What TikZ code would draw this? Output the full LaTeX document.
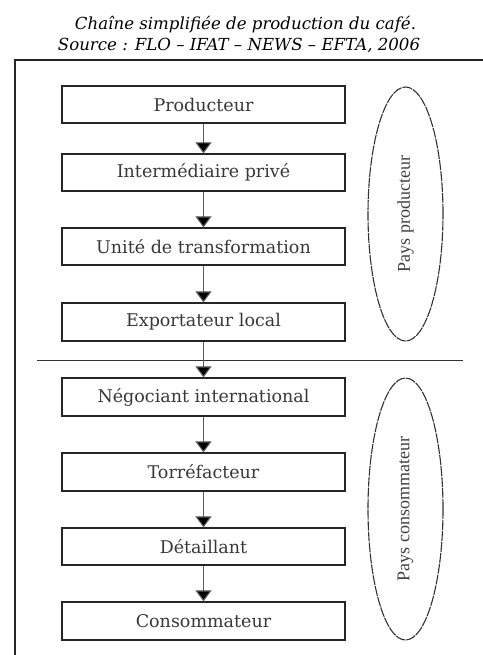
\documentclass[tikz,border=0pt]{standalone}
\usepackage{fontspec}
\setmainfont{DejaVu Serif}
\newfontfamily\titlefont{DejaVu Serif}
\newfontfamily\vfont{Liberation Serif}
\usetikzlibrary{arrows.meta,shapes.geometric}
\begin{document}
\begin{tikzpicture}[x=1pt,y=-1pt,
  stagebox/.style={draw=black!85, line width=1.2pt, minimum width=283pt, minimum height=37pt, inner sep=0pt, font=\fontsize{17.5}{20}\selectfont, text=black!78},
  flow/.style={draw=black!65, line width=1.1pt, -{Triangle[width=16pt,length=11pt,fill=black]}},
  region/.style={ellipse, draw=black!80, line width=1.1pt, dash pattern=on 10pt off 1pt, minimum width=75pt, inner sep=0pt},
  regionlabel/.style={rotate=90, font=\vfont\fontsize{18}{18}\selectfont, text=black!75},
  titletext/.style={font=\titlefont\itshape\fontsize{16.6}{20}\selectfont, anchor=base, inner sep=0pt},
  frameline/.style={draw=black!85, line width=1.4pt},
  sepline/.style={draw=black!80, line width=1pt}]
\useasboundingbox (0,0) rectangle (482,655);

% title
\node[titletext] (t1) at (245.5,30) {Chaîne simplifiée de production du café.};
\node[titletext] (t2) at (239,51) {Source : FLO – IFAT – NEWS – EFTA, 2006};

% frame
\coordinate (fb) at (15,660);
\coordinate (fc) at (15,60);
\coordinate (fr) at (490,60);
\draw[frameline] (fb) -- (fc) -- (fr);

% stages
\node[stagebox] (s1) at (203.5,104.5) {Producteur};
\node[stagebox] (s2) at (203.5,172.5) {Intermédiaire privé};
\node[stagebox] (s3) at (203.5,246.5) {Unité de transformation};
\node[stagebox, minimum height=38pt] (s4) at (203.5,322) {Exportateur local};
\node[stagebox, minimum height=38pt] (s5) at (203.5,397) {Négociant international};
\node[stagebox, minimum height=38pt] (s6) at (203.5,472) {Torréfacteur};
\node[stagebox] (s7) at (203.5,546.5) {Détaillant};
\node[stagebox, minimum height=38pt] (s8) at (203.5,621) {Consommateur};

% separator
\coordinate (sl) at (37,360);
\coordinate (sr) at (463,360);
\draw[sepline] (sl) -- (sr);

% arrows
\foreach \a/\b in {s1/s2,s2/s3,s3/s4,s4/s5,s5/s6,s6/s7,s7/s8}
  \draw[flow] (\a.south) -- (\b.north);

% regions
\node[region, minimum height=254pt] (e1) at (405.5,214) {};
\node[regionlabel] (l1) at (e1.center) {Pays producteur};
\node[region, minimum height=262pt] (e2) at (405.5,509) {};
\node[regionlabel] (l2) at (e2.center) {Pays consommateur};
\end{tikzpicture}
\end{document}
